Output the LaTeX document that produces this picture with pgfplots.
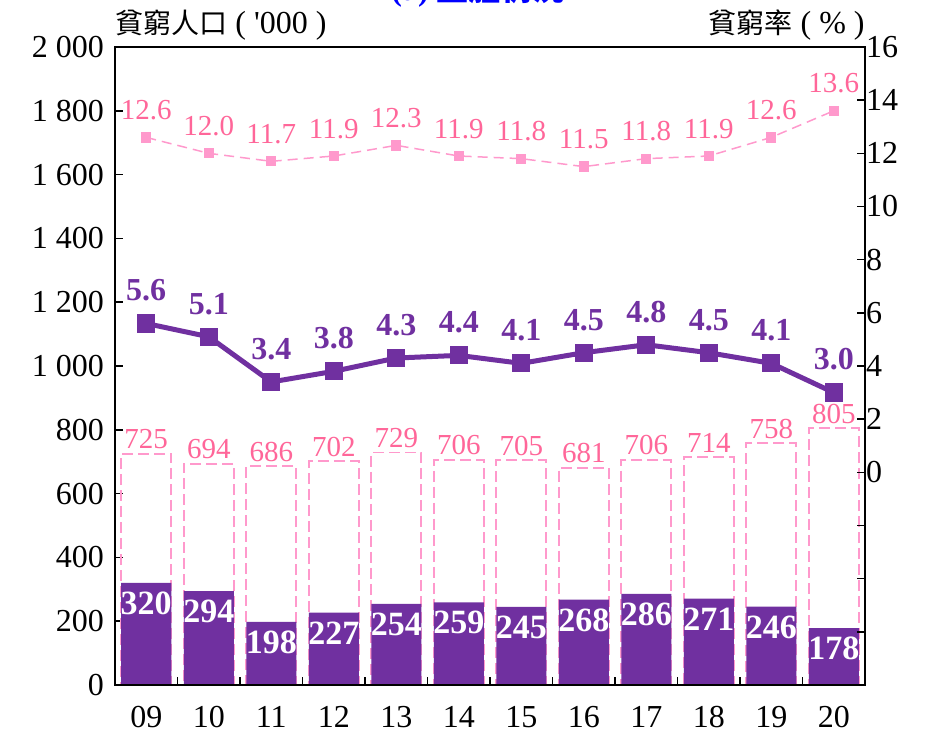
\documentclass[border=0pt]{standalone}
\usepackage{pgfplots}
\usepackage{pgfplotstable}
\pgfplotsset{compat=1.18}
\usepackage{fontspec}
\setmainfont{Liberation Serif}
\newfontfamily\rawserif{Liberation Serif}[Ligatures=TeXOff]
\newfontfamily\cjk{Noto Sans CJK TC}

\definecolor{deeppurple}{RGB}{112,48,160}
\definecolor{linepink}{RGB}{255,153,204}
\definecolor{textpink}{RGB}{255,102,153}

% x year total deep rate deeprate
\pgfplotstableread{
x  yr total deep rate deeprate
0  09 725 320 12.6 5.6
1  10 694 294 12.0 5.1
2  11 686 198 11.7 3.4
3  12 702 227 11.9 3.8
4  13 729 254 12.3 4.3
5  14 706 259 11.9 4.4
6  15 705 245 11.8 4.1
7  16 681 268 11.5 4.5
8  17 706 286 11.8 4.8
9  18 714 271 11.9 4.5
10 19 758 246 12.6 4.1
11 20 805 178 13.6 3.0
}\povdata

\begin{document}
\begin{tikzpicture}
\pgfplotsset{
  base/.style={
    width=375pt, height=319pt, scale only axis,
    xmin=-0.5, xmax=11.5, clip=false,
    axis line style={line width=1pt},
    tick style={black, line width=0.8pt},
    major tick length=4pt, minor tick length=4pt,
    /pgf/number format/assume math mode=true,
    tick label style={font=\fontsize{16}{16}\selectfont},
  },
}
\begin{axis}[base, name=ax,
  ymin=0, ymax=2000, ytick={0,200,...,2000},
  ytick pos=left,
  yticklabel style={xshift=-2pt},
  /pgf/number format/1000 sep={\ },
  xtick={0,...,11},
  xticklabels={09,10,11,12,13,14,15,16,17,18,19,20},
  major x tick style={draw=none},
  minor xtick={0.5,1.5,...,10.5},
  xtick pos=bottom,
  xticklabel style={yshift=-7pt},
]
\addplot[ybar, bar width=25pt, bar shift=0pt, draw=linepink, fill=none,
  line width=0.9pt, dash pattern=on 5.5pt off 2.5pt,
  nodes near coords,
  every node near coord/.style={text=textpink, font=\fontsize{14.5}{14.5}\selectfont,
    anchor=south, yshift=-1.5pt, solid}]
  table[x=x, y=total] {\povdata};
\addplot[ybar, bar width=25pt, bar shift=0pt, draw=none, fill=deeppurple,
  nodes near coords,
  every node near coord/.style={text=white, font=\bfseries\fontsize{17}{17}\selectfont,
    anchor=north, yshift=-1pt}]
  table[x=x, y=deep] {\povdata};
\node[anchor=south west, inner sep=0pt, yshift=3pt] at (rel axis cs:0,1)
  {\fontsize{14}{14}\selectfont{\cjk 貧窮人口}\fontsize{16}{16}\selectfont\ (\ {\rawserif '}000\ )};
\node[anchor=south east, inner sep=0pt, yshift=3pt] at (rel axis cs:1,1)
  {\fontsize{14}{14}\selectfont{\cjk 貧窮率}\fontsize{16}{16}\selectfont\ (\ \%\ )};
\end{axis}

\begin{axis}[base,
  ymin=-8, ymax=16, ytick={-8,-6,...,16},
  yticklabels={,,,,0,2,4,6,8,10,12,14,16},
  ytick pos=right, yticklabel pos=right,
  yticklabel style={xshift=-3pt},
  xtick=\empty,
]
\addplot[linepink, line width=0.75pt, dash pattern=on 5pt off 3pt,
  mark=square*, mark size=2.2pt, mark options={solid},
  nodes near coords={\pgfmathprintnumber[fixed,fixed zerofill,precision=1]{\pgfplotspointmeta}},
  every node near coord/.style={text=textpink, font=\fontsize{14.5}{14.5}\selectfont,
    anchor=south, yshift=5pt}]
  table[x=x, y=rate] {\povdata};
\addplot[deeppurple, line width=2.5pt,
  mark=square*, mark size=3.3pt,
  nodes near coords={\pgfmathprintnumber[fixed,fixed zerofill,precision=1]{\pgfplotspointmeta}},
  every node near coord/.style={text=deeppurple, font=\bfseries\fontsize{16}{16}\selectfont,
    anchor=south, yshift=6.5pt}]
  table[x=x, y=deeprate] {\povdata};
\end{axis}

\node[anchor=base, text=blue, font=\bfseries\fontsize{16}{16}\selectfont]
  at ([shift={(181.5pt,342.3pt)}]ax.south west) {(a) {\cjk 整體情況}};
\pgfresetboundingbox
\path[use as bounding box] ([shift={(-57.5pt,-25pt)}]ax.south west) rectangle ++(465.5pt,367.5pt);
\end{tikzpicture}
\end{document}
